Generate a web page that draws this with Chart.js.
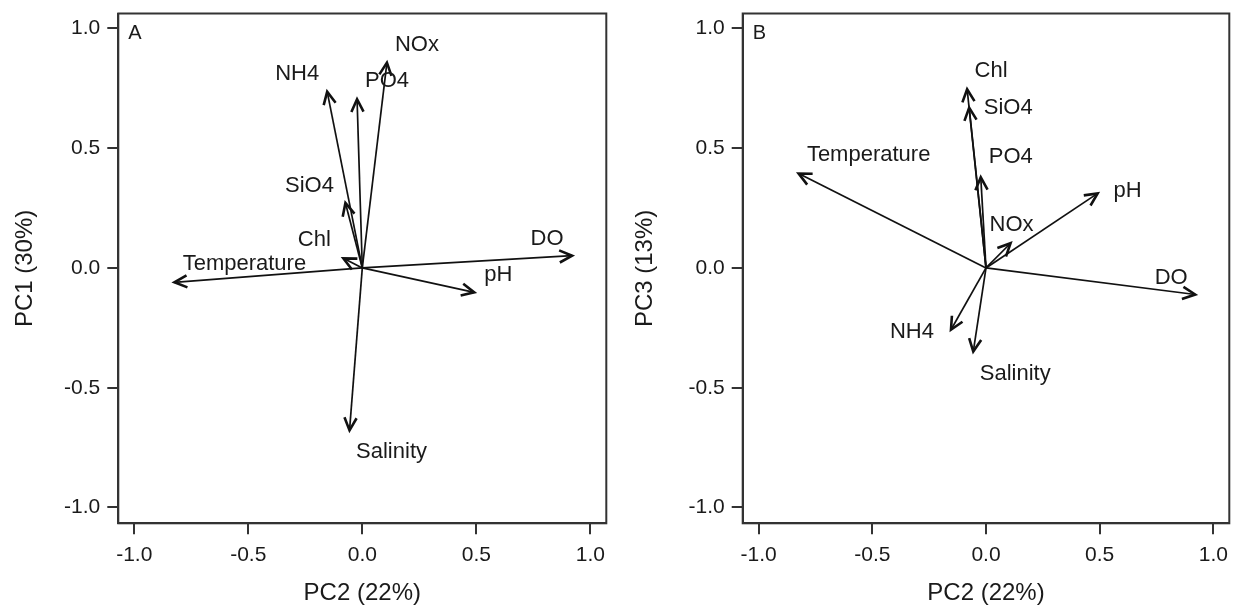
<!DOCTYPE html>
<html>
<head>
<meta charset="utf-8">
<title>PCA loadings</title>
<script src="https://cdn.jsdelivr.net/npm/chart.js@4.4.1/dist/chart.umd.min.js"></script>
<style>
  html, body { margin: 0; padding: 0; background: #fff; }
  .panel { position: absolute; top: 0; height: 610px; }
  #wrapA { left: 0; width: 620px; }
  #wrapB { left: 620px; width: 619px; }
</style>
</head>
<body>
<div class="panel" id="wrapA"><canvas id="chartA"></canvas></div>
<div class="panel" id="wrapB"><canvas id="chartB"></canvas></div>
<script>
// loadings
const variables = ["Temperature", "Salinity", "DO", "pH", "Chl", "NOx", "PO4", "SiO4", "NH4"];
const pc2 = [-0.824, -0.056, 0.92, 0.491, -0.083, 0.108, -0.023, -0.074, -0.154];
const pc1 = [-0.060, -0.678, 0.051, -0.102, 0.040, 0.857, 0.704, 0.271, 0.736];
const pc3 = [0.394, -0.349, -0.111, 0.311, 0.746, 0.103, 0.378, 0.669, -0.258];
const tickValues = [-1.0, -0.5, 0.0, 0.5, 1.0];

// label offsets (px) from each arrow tip
const labelOffsetA = [[70, -18], [42, 22], [-25, -17], [24, -17], [-29, -18], [30, -18], [30, -18], [-36, -17], [-30, -18]];
const labelOffsetB = [[70, -19], [42, 22], [-24, -17], [30, -2], [24, -18], [1, -18], [30, -20], [39, 0], [-39, 2]];

Chart.defaults.font.family = '"Liberation Sans", Arial, sans-serif';
Chart.defaults.color = "#1a1a1a";

const ink = "#111";
const frameColor = "#333";

// arrowheads, labels, box and panel letter
const biplotPlugin = {
  id: "biplot",
  afterDatasetsDraw(chart, args, opts) {
    const ctx = chart.ctx;
    const headLen = 14, headAng = Math.PI / 7;
    ctx.save();
    chart.data.datasets.forEach((ds, i) => {
      const pts = chart.getDatasetMeta(i).data;
      const a = pts[0], b = pts[1];
      const ang = Math.atan2(b.y - a.y, b.x - a.x);
      ctx.strokeStyle = ink;
      ctx.lineWidth = 2.6;
      ctx.lineJoin = "miter";
      ctx.beginPath();
      ctx.moveTo(b.x - headLen * Math.cos(ang - headAng), b.y - headLen * Math.sin(ang - headAng));
      ctx.lineTo(b.x, b.y);
      ctx.lineTo(b.x - headLen * Math.cos(ang + headAng), b.y - headLen * Math.sin(ang + headAng));
      ctx.stroke();

      const off = opts.offsets[i];
      ctx.font = '22px "Liberation Sans", Arial, sans-serif';
      ctx.fillStyle = "#1a1a1a";
      ctx.textAlign = "center";
      ctx.textBaseline = "middle";
      ctx.fillText(ds.label, b.x + off[0], b.y + off[1]);
    });

    const area = chart.chartArea;
    ctx.strokeStyle = frameColor;
    ctx.lineWidth = 2;
    ctx.strokeRect(area.left, area.top, area.right - area.left, area.bottom - area.top);

    ctx.font = '20px "Liberation Sans", Arial, sans-serif';
    ctx.fillStyle = "#1a1a1a";
    ctx.textAlign = "left";
    ctx.textBaseline = "middle";
    ctx.fillText(opts.letter, area.left + 10, area.top + 20);
    ctx.restore();
  }
};

function makeBiplot(canvasId, yValues, yTitle, letter, offsets, yWidth, padRight) {
  const datasets = variables.map((name, i) => ({
    label: name,
    data: [{ x: 0, y: 0 }, { x: pc2[i], y: yValues[i] }],
    showLine: true,
    borderColor: ink,
    borderWidth: 1.7,
    pointRadius: 0,
    pointHoverRadius: 0
  }));

  const setTicks = (scale) => {
    scale.ticks = tickValues.map(v => ({ value: v }));
  };

  return new Chart(document.getElementById(canvasId), {
    type: "scatter",
    data: { datasets: datasets },
    options: {
      responsive: true,
      maintainAspectRatio: false,
      animation: false,
      layout: { padding: { left: 0, right: padRight, top: 13.5, bottom: 0 } },
      plugins: {
        legend: { display: false },
        tooltip: { enabled: false },
        biplot: { offsets: offsets, letter: letter }
      },
      scales: {
        x: {
          type: "linear",
          min: -1.07,
          max: 1.07,
          afterBuildTicks: setTicks,
          afterFit: (scale) => {
            scale.height = 86.7;
            scale.paddingLeft = 0;
            scale.paddingRight = 0;
          },
          grid: { drawOnChartArea: false, drawTicks: true, tickLength: 11, color: frameColor, lineWidth: 2 },
          border: { display: true, color: frameColor, width: 2 },
          ticks: {
            padding: 8,
            font: { size: 21 },
            color: "#1a1a1a",
            callback: (v) => Number(v).toFixed(1)
          },
          title: {
            display: true,
            text: "PC2 (22%)",
            font: { size: 24 },
            color: "#1a1a1a",
            padding: { top: 0, bottom: 2 }
          }
        },
        y: {
          type: "linear",
          min: -1.066,
          max: 1.062,
          afterBuildTicks: setTicks,
          afterFit: (scale) => {
            scale.width = yWidth;
            scale.paddingTop = 0;
            scale.paddingBottom = 0;
          },
          grid: { drawOnChartArea: false, drawTicks: true, tickLength: 11, color: frameColor, lineWidth: 2 },
          border: { display: true, color: frameColor, width: 2 },
          ticks: {
            padding: 7,
            font: { size: 21 },
            color: "#1a1a1a",
            callback: (v) => Number(v).toFixed(1)
          },
          title: {
            display: true,
            text: yTitle,
            font: { size: 24 },
            color: "#1a1a1a",
            padding: { top: 11, bottom: 0 }
          }
        }
      }
    },
    plugins: [biplotPlugin]
  });
}

makeBiplot("chartA", pc1, "PC1 (30%)", "A", labelOffsetA, 118.3, 13.7);
makeBiplot("chartB", pc3, "PC3 (13%)", "B", labelOffsetB, 122.7, 9.7);
</script>
</body>
</html>
